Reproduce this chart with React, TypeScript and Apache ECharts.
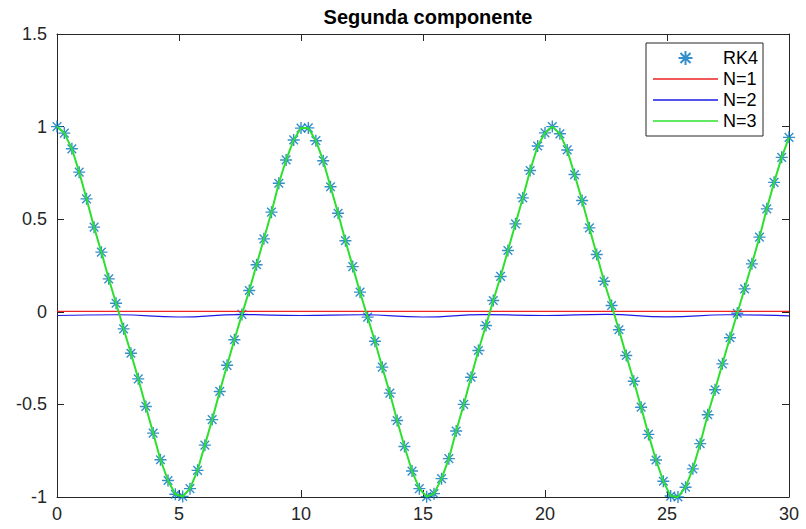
import React, { useEffect, useRef } from "react";
import * as echarts from "echarts";

// Sample times (s) of the RK4 solution
const T = [
  0, 0.3, 0.61, 0.91, 1.21, 1.52, 1.82, 2.12, 2.42, 2.73,
  3.03, 3.33, 3.64, 3.94, 4.24, 4.55, 4.85, 5.15, 5.45, 5.76,
  6.06, 6.36, 6.67, 6.97, 7.27, 7.58, 7.88, 8.18, 8.48, 8.79,
  9.09, 9.39, 9.7, 10.0, 10.3, 10.61, 10.91, 11.21, 11.52, 11.82,
  12.12, 12.42, 12.73, 13.03, 13.33, 13.64, 13.94, 14.24, 14.55, 14.85,
  15.15, 15.45, 15.76, 16.06, 16.36, 16.67, 16.97, 17.27, 17.58, 17.88,
  18.18, 18.48, 18.79, 19.09, 19.39, 19.7, 20.0, 20.3, 20.61, 20.91,
  21.21, 21.52, 21.82, 22.12, 22.42, 22.73, 23.03, 23.33, 23.64, 23.94,
  24.24, 24.55, 24.85, 25.15, 25.45, 25.76, 26.06, 26.36, 26.67, 26.97,
  27.27, 27.58, 27.88, 28.18, 28.48, 28.79, 29.09, 29.39, 29.7, 30.0,
];

// RK4 values (second component)
const RK4 = [
  1.0, 0.965, 0.88, 0.754, 0.61, 0.457, 0.322, 0.178, 0.046, -0.092,
  -0.224, -0.362, -0.511, -0.655, -0.799, -0.911, -0.985, -0.997, -0.955, -0.856,
  -0.72, -0.582, -0.43, -0.289, -0.151, -0.014, 0.115, 0.254, 0.394, 0.538,
  0.694, 0.82, 0.928, 0.992, 0.993, 0.924, 0.816, 0.675, 0.532, 0.384,
  0.244, 0.106, -0.029, -0.159, -0.299, -0.439, -0.587, -0.727, -0.86, -0.955,
  -0.998, -0.982, -0.901, -0.793, -0.644, -0.5, -0.353, -0.209, -0.074, 0.061,
  0.191, 0.331, 0.475, 0.615, 0.763, 0.895, 0.966, 1.0, 0.961, 0.874,
  0.741, 0.601, 0.453, 0.309, 0.165, 0.034, -0.097, -0.236, -0.375, -0.515,
  -0.662, -0.8, -0.915, -0.995, -1.0, -0.947, -0.848, -0.712, -0.556, -0.421,
  -0.281, -0.14, -0.008, 0.124, 0.259, 0.403, 0.556, 0.699, 0.834, 0.942,
];

// N=3 approximation: drawn through the same readings (it overlays the RK4 markers)
const N3 = RK4;

// N=1 approximation: flat line
const N1_T = [0, 30];
const N1 = [0.002, 0.002];

// N=2 approximation: small wobble just below zero
const N2_T = [0, 2.5, 5, 7.5, 10, 12.5, 15, 17.5, 20, 22.5, 25, 27.5, 30];
const N2 = [-0.02, -0.016, -0.028, -0.015, -0.02, -0.016, -0.028, -0.015, -0.02, -0.014, -0.027, -0.016, -0.022];

const X_MIN = 0, X_MAX = 30, X_STEP = 5;
const Y_MIN = -1, Y_MAX = 1.5, Y_STEP = 0.5;

const FONT = "'Liberation Sans', Arial, Helvetica, sans-serif";
const AXIS_COLOR = "#262626";
const C_RK4 = "#0072BD";
const C_N1 = "#ee2222";
const C_N2 = "#1a1ae6";
const C_N3 = "#2ee02e";

const STAR = "path://M0,-1L0,1M-1,0L1,0M-0.72,-0.72L0.72,0.72M-0.72,0.72L0.72,-0.72";
const LINE_ICON = "path://M0,0L65,0L65,1.3L0,1.3Z";

export default function App() {
  const ref = useRef<HTMLDivElement>(null);
  useEffect(() => {
    if (!ref.current) return;
    const chart = echarts.init(ref.current, null, { renderer: "svg" });
    const zip = (xs: number[], ys: number[]) => xs.map((x, i) => [x, ys[i]]);

    const baseX = {
      type: "value",
      min: X_MIN,
      max: X_MAX,
      interval: X_STEP,
      splitLine: { show: false },
      axisLine: { show: true, onZero: false, lineStyle: { color: AXIS_COLOR, width: 1 } },
      axisTick: { show: true, inside: true, length: 7, lineStyle: { color: AXIS_COLOR } },
    };
    const baseY = {
      type: "value",
      min: Y_MIN,
      max: Y_MAX,
      interval: Y_STEP,
      splitLine: { show: false },
      axisLine: { show: true, onZero: false, lineStyle: { color: AXIS_COLOR, width: 1 } },
      axisTick: { show: true, inside: true, length: 7, lineStyle: { color: AXIS_COLOR } },
    };

    chart.setOption({
      animation: false,
      backgroundColor: "#ffffff",
      title: {
        text: "Segunda componente",
        left: 423,
        top: 2,
        textAlign: "center",
        textStyle: { fontFamily: FONT, fontSize: 20, fontWeight: "bold", color: "#000" },
      },
      grid: { left: 57, right: 17, top: 34, bottom: 32, containLabel: false },
      xAxis: [
        {
          ...baseX,
          position: "bottom",
          axisLabel: { show: true, margin: 8, fontFamily: FONT, fontSize: 18, color: AXIS_COLOR },
        },
        { ...baseX, position: "top", axisLabel: { show: false } },
      ],
      yAxis: [
        {
          ...baseY,
          position: "left",
          axisLabel: { show: true, margin: 10, fontFamily: FONT, fontSize: 18, color: AXIS_COLOR },
        },
        { ...baseY, position: "right", axisLabel: { show: false } },
      ],
      legend: {
        left: 646,
        top: 43,
        orient: "vertical",
        padding: [6, 5, 6, 7],
        itemWidth: 65,
        itemHeight: 14,
        itemGap: 3,
        borderColor: AXIS_COLOR,
        borderWidth: 1,
        backgroundColor: "#ffffff",
        textStyle: { fontFamily: FONT, fontSize: 18, color: "#000" },
        data: [
          { name: "RK4" },
          { name: "N=1", icon: LINE_ICON, itemStyle: { color: C_N1, borderWidth: 0 } },
          { name: "N=2", icon: LINE_ICON, itemStyle: { color: C_N2, borderWidth: 0 } },
          { name: "N=3", icon: LINE_ICON, itemStyle: { color: C_N3, borderWidth: 0 } },
        ],
      },
      series: [
        {
          name: "RK4",
          type: "scatter",
          data: zip(T, RK4),
          symbol: STAR,
          symbolSize: 12,
          itemStyle: { color: "transparent", borderColor: C_RK4, borderWidth: 1.4 },
          z: 2,
        },
        {
          name: "N=1",
          type: "line",
          data: zip(N1_T, N1),
          symbol: "none",
          lineStyle: { color: C_N1, width: 1.2 },
          itemStyle: { color: C_N1 },
          z: 3,
        },
        {
          name: "N=2",
          type: "line",
          data: zip(N2_T, N2),
          symbol: "none",
          smooth: true,
          lineStyle: { color: C_N2, width: 1.2 },
          itemStyle: { color: C_N2 },
          z: 3,
        },
        {
          name: "N=3",
          type: "line",
          data: zip(T, N3),
          symbol: "none",
          lineStyle: { color: C_N3, width: 2 },
          itemStyle: { color: C_N3 },
          z: 4,
        },
      ],
    });
    return () => chart.dispose();
  }, []);

  return (
    <div
      ref={ref}
      style={{ position: "fixed", left: 0, top: 0, width: 806, height: 529, background: "#fff" }}
    />
  );
}
